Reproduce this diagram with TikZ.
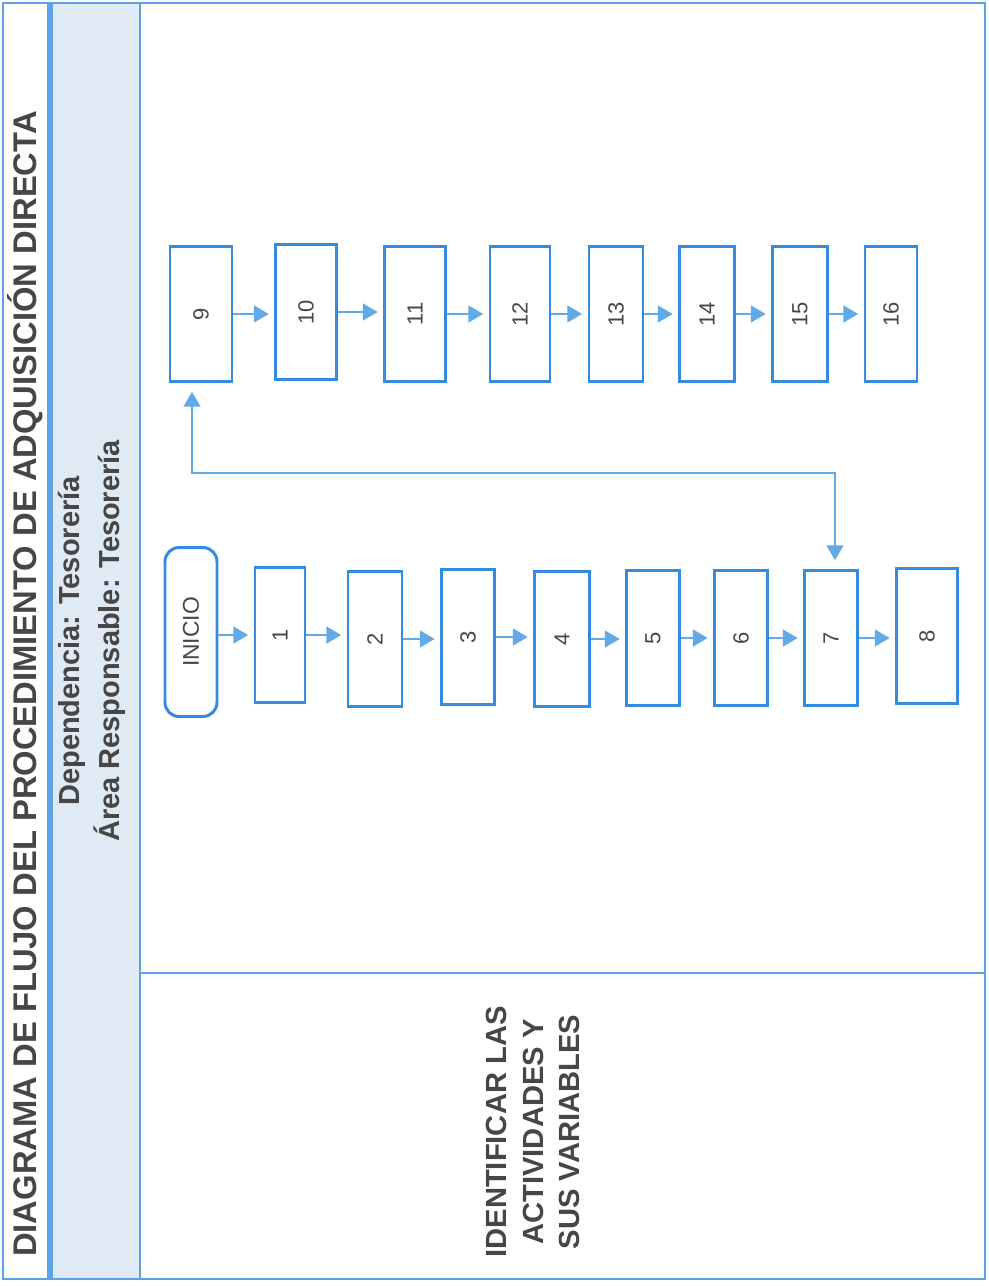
\documentclass[tikz,border=0pt]{standalone}
\usepackage{fontspec}
\setmainfont{Liberation Sans}
\usetikzlibrary{arrows.meta, calc}

\definecolor{boxblue}{RGB}{52,138,222}
\definecolor{arrowblue}{RGB}{96,170,232}
\definecolor{lineblue}{RGB}{92,162,228}
\definecolor{bandfill}{RGB}{224,234,245}
\definecolor{ink}{RGB}{70,70,70}

\tikzset{
	paso/.style={draw=boxblue, line width=1.7pt, rotate=90, minimum width=2.7cm, inner sep=0pt, text=ink, font=\fontsize{12.5}{14}\selectfont},
	flecha/.style={draw=arrowblue, line width=1.6pt, -{Triangle[length=8.5pt, width=9.5pt]}, shorten >=3pt},
	marco/.style={draw=lineblue, line width=1pt},
}

\begin{document}
\begin{tikzpicture}[x=0.02cm, y=-0.02cm]
	\useasboundingbox (0,0) rectangle (989,1286);
	% page frame
	\fill[bandfill] (50,3) rectangle (140,1279);
	\draw[marco] (3,3) rectangle (985,1279);
	\draw[marco] (140,3) -- (140,1279);
	\draw[marco] (140,973) -- (985,973);
	\draw[lineblue, line width=3pt] (50,3) -- (50,1279);

	\node[rotate=90, text=ink, font=\fontsize{18.65}{22}\selectfont\bfseries] (titulo) at (25,684) {DIAGRAMA DE FLUJO DEL PROCEDIMIENTO DE ADQUISICIÓN DIRECTA};
	\node[rotate=90, align=center, text=ink, font=\fontsize{16.5}{22.7}\selectfont\bfseries] (area) at (92,641) {Dependencia: Tesorería\\Área Responsable: Tesorería};
	\node[rotate=90, align=center, text=ink, font=\fontsize{16.6}{21}\selectfont\bfseries] (tarea) at (533,1132) {IDENTIFICAR LAS\\ACTIVIDADES Y\\SUS VARIABLES};

	% steps
	\node[paso, rounded corners=8pt, minimum width=3.38cm, minimum height=1.04cm, font=\fontsize{13}{15}\selectfont] (ini) at (191,632) {INICIO};
	\foreach \n/\x/\y/\w in {1/280/635/50, 2/375/639/54, 3/468/637/53, 4/562/639/55, 5/653/638/53, 6/741/638/53, 7/831/638/53, 8/927/636/61,
		9/201/314/62, 10/306/312/61, 11/415/314/61, 12/520/314/60, 13/616/314/54, 14/707/314/55, 15/800/314/55, 16/891/314/52}
		\node[paso, minimum height=\w*0.02cm] (b\n) at (\x,\y) {\n};

	\draw[flecha] (ini.south |- b1.center) -- (b1.north);
	\foreach \a/\b in {1/2, 2/3, 3/4, 4/5, 5/6, 6/7, 7/8, 9/10, 10/11, 11/12, 12/13, 13/14, 14/15, 15/16}
		\draw[flecha] (b\a.south) -- (b\a.south -| b\b.north);

	\coordinate (giro) at (500,473);
	\draw[flecha, line width=1.4pt, {Triangle[length=8.5pt, width=9.5pt]}-{Triangle[length=8.5pt, width=9.5pt]}, shorten <=5pt, shorten >=5pt]
		([xshift=-0.18cm]b9.west) -- ([xshift=-0.18cm]b9.west |- giro) -| ([xshift=0.08cm]b7.east);
\end{tikzpicture}
\end{document}
